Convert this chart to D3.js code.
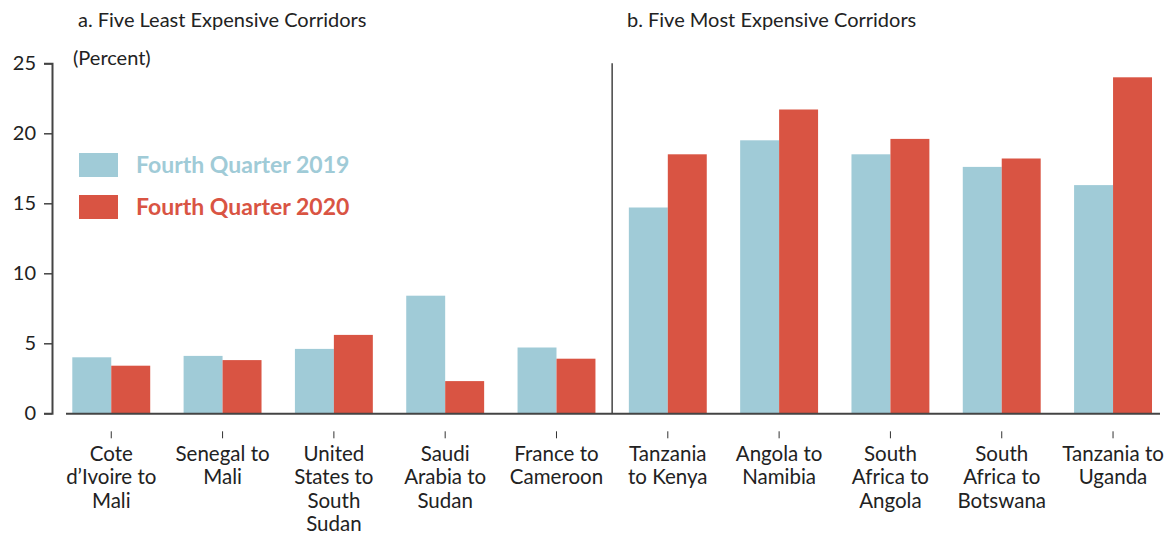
<!DOCTYPE html>
<html>
<head>
<meta charset="utf-8">
<script src="https://cdn.jsdelivr.net/npm/d3@7"></script>
<style>
  html, body { margin: 0; padding: 0; background: #fff; }
  svg { display: block; font-family: Lato, "Open Sans", sans-serif; }
</style>
</head>
<body>
<svg id="chart" width="1167" height="535"></svg>
<script>
// Remittance cost corridors, percent
const corridors = [
  "Cote\nd\u2019Ivoire to\nMali",
  "Senegal to\nMali",
  "United\nStates to\nSouth\nSudan",
  "Saudi\nArabia to\nSudan",
  "France to\nCameroon",
  "Tanzania\nto Kenya",
  "Angola to\nNamibia",
  "South\nAfrica to\nAngola",
  "South\nAfrica to\nBotswana",
  "Tanzania to\nUganda"
];
const q4_2019 = [4.0, 4.1, 4.6, 8.4, 4.7, 14.7, 19.5, 18.5, 17.6, 16.3];
const q4_2020 = [3.4, 3.8, 5.6, 2.3, 3.9, 18.5, 21.7, 19.6, 18.2, 24.0];
const seriesNames = ["Fourth Quarter 2019", "Fourth Quarter 2020"];
const seriesColors = ["#a0cbd7", "#d95443"];
const yTicks = [0, 5, 10, 15, 20, 25];
const panelTitles = ["a. Five Least Expensive Corridors", "b. Five Most Expensive Corridors"];

const svg = d3.select("#chart");

const x = d3.scaleBand()
  .domain(d3.range(corridors.length))
  .range([55.6, 1168.7])
  .paddingInner(0.3)
  .paddingOuter(0.15);

const xs = d3.scaleBand()
  .domain([0, 1])
  .range([0, x.bandwidth()]);

const y = d3.scaleLinear().domain([0, 25]).range([413.3, 63.3]);

const axisColor = "#444";
const textColor = "#222";

// bars
const series = [q4_2019, q4_2020];
series.forEach((vals, si) => {
  svg.append("g").selectAll("rect")
    .data(vals)
    .join("rect")
    .attr("x", (d, i) => x(i) + xs(si))
    .attr("y", d => y(d))
    .attr("width", xs.bandwidth())
    .attr("height", d => y(0) - y(d))
    .attr("fill", seriesColors[si]);
});

// y axis
const yAxis = svg.append("g")
  .attr("transform", "translate(52,0)")
  .call(d3.axisLeft(y).tickValues(yTicks).tickSize(8).tickPadding(8));
yAxis.select(".domain").attr("stroke", axisColor).attr("stroke-width", 2);
yAxis.selectAll(".tick line").attr("stroke", axisColor).attr("stroke-width", 1.5);
yAxis.selectAll(".tick text")
  .attr("font-size", 20).attr("fill", textColor)
  .attr("font-family", "Lato, sans-serif");

// x axis baseline
svg.append("line")
  .attr("x1", 66).attr("x2", 1160)
  .attr("y1", y(0) + 0.5).attr("y2", y(0) + 0.5)
  .attr("stroke", axisColor).attr("stroke-width", 2);

// panel divider
const divX = (x(4) + x.bandwidth() + x(5)) / 2;
svg.append("line")
  .attr("x1", divX).attr("x2", divX)
  .attr("y1", y(25)).attr("y2", y(0))
  .attr("stroke", axisColor).attr("stroke-width", 1.5);

// category ticks and labels
const xAxis = svg.append("g")
  .attr("transform", `translate(0,${y(0) + 18})`)
  .call(d3.axisBottom(x).tickSize(7).tickFormat(""));
xAxis.select(".domain").remove();
xAxis.selectAll(".tick line").attr("stroke", "#333").attr("stroke-width", 1);

const labels = svg.append("g");
corridors.forEach((c, i) => {
  const cx = x(i) + x.bandwidth() / 2;
  const t = labels.append("text")
    .attr("x", cx)
    .attr("y", 461)
    .attr("text-anchor", "middle")
    .attr("font-size", 20.5)
    .attr("fill", textColor);
  c.split("\n").forEach((line, k) => {
    t.append("tspan")
      .attr("x", cx)
      .attr("dy", k === 0 ? 0 : 23.3)
      .text(line);
  });
});

// panel titles
svg.append("text").attr("x", 78).attr("y", 27)
  .attr("font-size", 20).attr("fill", textColor).text(panelTitles[0]);
svg.append("text").attr("x", 627).attr("y", 27)
  .attr("font-size", 20).attr("fill", textColor).text(panelTitles[1]);

// unit label
svg.append("text").attr("x", 73).attr("y", 65)
  .attr("font-size", 20).attr("fill", textColor).text("(Percent)");

// legend
const legend = svg.append("g");
seriesNames.forEach((name, i) => {
  const yy = 153 + i * 42;
  legend.append("rect")
    .attr("x", 79).attr("y", yy)
    .attr("width", 39).attr("height", 24)
    .attr("fill", seriesColors[i]);
  legend.append("text")
    .attr("x", 136).attr("y", yy + 20)
    .attr("font-size", 23).attr("font-weight", "bold")
    .attr("fill", seriesColors[i])
    .text(name);
});
</script>
</body>
</html>
